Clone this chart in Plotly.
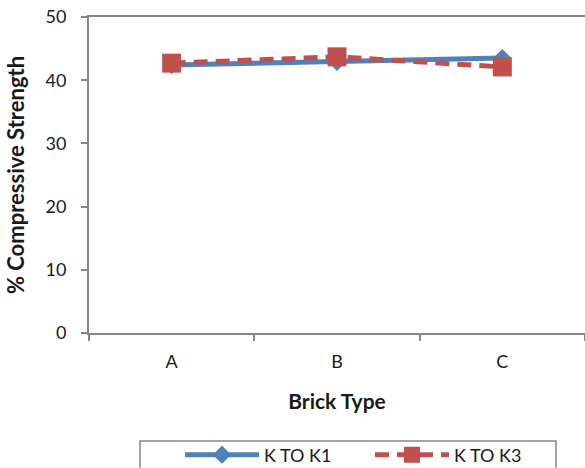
import plotly.graph_objects as go

categories = ["A", "B", "C"]
k_to_k1 = [42.4, 42.9, 43.5]
k_to_k3 = [42.7, 43.7, 42.1]
y_ticks = [0, 10, 20, 30, 40, 50]

FONT = "Lato, 'Open Sans', sans-serif"
AXIS_COLOR = "#868686"
BLUE = "#4F81BD"
RED = "#C0504D"

# plot-area geometry in pixels (used to place the legend frame)
L, T, W, H = 89, 17, 496, 316


def px_x(x):
    return (x - L) / W


def px_y(y):
    return (T + H - y) / H


fig = go.Figure()
fig.add_trace(go.Scatter(
    x=categories, y=k_to_k1, name="K TO K1", mode="lines+markers",
    line=dict(color=BLUE, width=5),
    marker=dict(symbol="diamond", size=14, color=BLUE),
))
fig.add_trace(go.Scatter(
    x=categories, y=k_to_k3, name="K TO K3", mode="lines+markers",
    line=dict(color=RED, width=5, dash="14px,8px"),
    marker=dict(symbol="square", size=19, color=RED),
))

fig.update_layout(
    width=585, height=468,
    margin=dict(l=L, r=585 - L - W, t=T, b=468 - T - H, autoexpand=False),
    paper_bgcolor="white", plot_bgcolor="white",
    font=dict(family=FONT, size=18, color="#1a1a1a"),
    showlegend=True,
    legend=dict(
        orientation="h", x=px_x(180), xanchor="left", y=px_y(455), yanchor="middle",
        font=dict(family=FONT, size=18, color="#1a1a1a"),
        itemwidth=74, entrywidth=101, bgcolor="rgba(0,0,0,0)",
    ),
    xaxis=dict(
        type="category", range=[-0.5, 2.5], showgrid=False, showline=True, linecolor=AXIS_COLOR,
        linewidth=2, mirror=True, ticks="outside", tickson="boundaries",
        ticklen=6, tickcolor=AXIS_COLOR, tickwidth=1.5, ticklabelstandoff=11,
        tickfont=dict(family=FONT, size=18, color="#1a1a1a"),
        title=dict(text="\u00a0\u00a0\u00a0\u00a0<b>Brick Type</b>", font=dict(family=FONT, size=21), standoff=24),
    ),
    yaxis=dict(
        range=[0, 50], tickvals=y_ticks, showgrid=False, showline=True,
        linecolor=AXIS_COLOR, linewidth=2, ticks="outside", ticklen=6,
        tickcolor=AXIS_COLOR, tickwidth=1.5, zeroline=False, ticklabelstandoff=11,
        tickfont=dict(family=FONT, size=18, color="#1a1a1a"),
        title=dict(text="<b>% Compressive Strength</b>", font=dict(family=FONT, size=22), standoff=15),
    ),
)

# legend frame (extends past the bottom edge as in the reference)
fig.add_shape(type="rect", xref="paper", yref="paper",
              x0=px_x(140), x1=px_x(556), y0=px_y(480), y1=px_y(441),
              line=dict(color=AXIS_COLOR, width=1.5), fillcolor="rgba(0,0,0,0)")

fig.write_html(
    "out.html",
    config={"displayModeBar": False},
    post_script="document.body.style.margin='0';document.body.style.overflow='hidden';",
)
